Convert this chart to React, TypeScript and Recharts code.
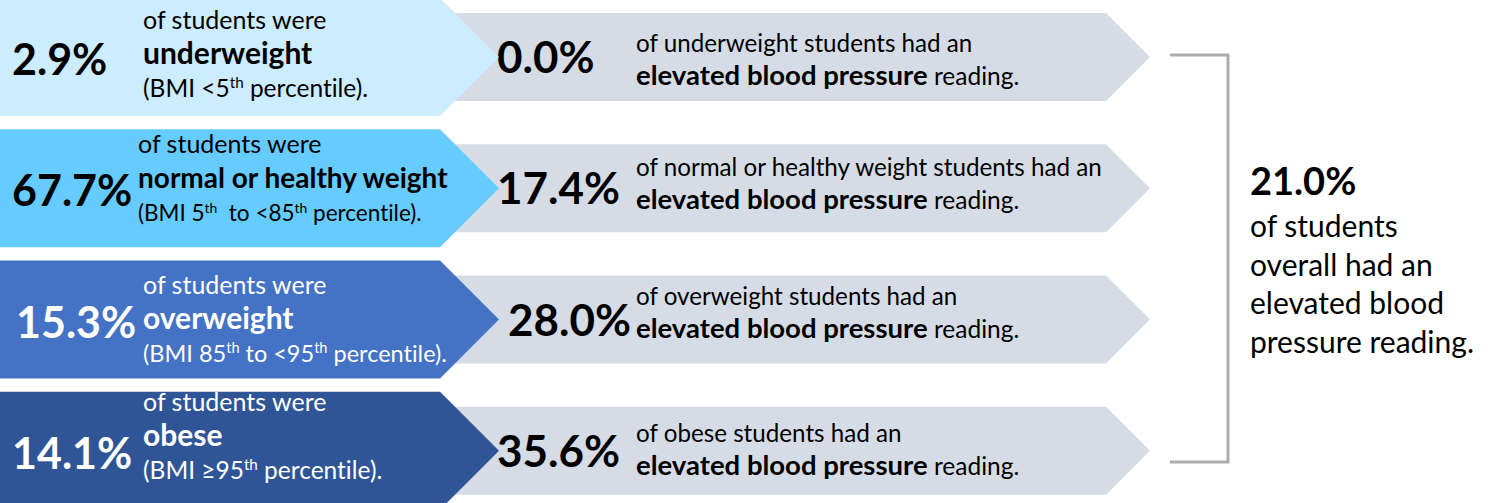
import { Bar, BarChart, Customized, XAxis, YAxis } from 'recharts'

const groups = ['Underweight', 'Normal or healthy weight', 'Overweight', 'Obese']
const weightShare = [2.9, 67.7, 15.3, 14.1]
const elevatedBpShare = [0.0, 17.4, 28.0, 35.6]
const weightWords = ['underweight', 'normal or healthy weight', 'overweight', 'obese']
const bpWords = ['underweight', 'normal or healthy weight', 'overweight', 'obese']
// BMI ranges as [text, superscript, text, superscript, text]
const bmiRanges = [
  ['(BMI <5', 'th', ' percentile).'],
  ['(BMI 5', 'th', '  to <85', 'th', ' percentile).'],
  ['(BMI 85', 'th', ' to <95', 'th', ' percentile).'],
  ['(BMI \u226595', 'th', ' percentile).'],
]
const overallElevated = 21.0

const arrowColors = ['#CCECFF', '#66CCFF', '#4472C4', '#2F5597']
const arrowText = ['#000000', '#000000', '#FFFFFF', '#FFFFFF']
const GRAY = '#D6DCE5'
const FONT = "Lato, 'Open Sans', sans-serif"
const noLig = { fontVariantLigatures: 'none' as const, whiteSpace: 'pre' as const }

// small per-row nudges so the text sits like the original
const weightNudge = [5, -2, 7, -7]
const bpNudge = [5, -2, -5, 1]
const bmiSize = [24.5, 22.5, 23.5, 24.5]

const rows = groups.map((group, i) => ({
  group,
  weightShare: weightShare[i],
  bpShare: elevatedBpShare[i],
}))

const pct = (v: number) => v.toFixed(1) + '%'

function BmiLine({ parts, x, y, size, fill }: { parts: string[]; x: number; y: number; size: number; fill: string }) {
  return (
    <text x={x} y={y} fontSize={size} fill={fill} fontFamily={FONT} style={noLig}>
      {parts.map((p, i) =>
        i % 2 === 1 ? (
          <tspan key={i} dy={-size * 0.35} fontSize={size * 0.62}>{p}</tspan>
        ) : (
          <tspan key={i} dy={i === 0 ? 0 : size * 0.35}>{p}</tspan>
        )
      )}
    </text>
  )
}

function WeightArrow(props: any) {
  const { x, y, height, index } = props
  const cy = y + height / 2
  const half = 59
  const corner = 440
  const fill = arrowText[index]
  const n = weightNudge[index]
  const tx = index === 1 ? 138 : 143
  return (
    <g>
      <path
        d={`M${x},${cy - half} H${corner} L${corner + half},${cy} L${corner},${cy + half} H${x} Z`}
        fill={arrowColors[index]}
      />
      <text x={index === 2 ? 16 : 12} y={cy + 18} fontSize={43} fontWeight={700} fill={fill} fontFamily={FONT}>
        {pct(weightShare[index])}
      </text>
      <text x={tx} y={cy - 33 + n} fontSize={25} fill={fill} fontFamily={FONT} style={noLig}>
        of students were
      </text>
      <text x={tx} y={cy + 2 + n} fontSize={index === 1 ? 28 : 30} fontWeight={700} fill={fill} fontFamily={FONT} style={noLig}>
        {weightWords[index]}
      </text>
      <BmiLine parts={bmiRanges[index]} x={tx} y={cy + 35 + n} size={bmiSize[index]} fill={fill} />
    </g>
  )
}

function BpArrow(props: any) {
  const { y, height, index } = props
  const cy = y + height / 2
  const half = 44
  const left = 436
  const corner = 1106
  const n = bpNudge[index]
  return (
    <g>
      <path
        d={`M${left},${cy - half} H${corner} L${corner + half},${cy} L${corner},${cy + half} H${left} Z`}
        fill={GRAY}
      />
      <text x={index === 2 ? 508 : 497} y={cy + 16} fontSize={44} fontWeight={700} fill="#000" fontFamily={FONT}>
        {pct(elevatedBpShare[index])}
      </text>
      <text x={636} y={cy - 10 + n} fontSize={24.2} fill="#000" fontFamily={FONT} style={noLig}>
        of {bpWords[index]} students had an
      </text>
      <text x={636} y={cy + 23 + n} fontSize={24.5} fill="#000" fontFamily={FONT} style={noLig}>
        <tspan fontWeight={700} fontSize={27.5}>elevated blood pressure</tspan>
        <tspan> reading.</tspan>
      </text>
    </g>
  )
}

function Summary() {
  const lines = ['of students', 'overall had an', 'elevated blood', 'pressure reading.']
  return (
    <g>
      <path d="M1170,55 H1228 V462 H1170" fill="none" stroke="#ADADAD" strokeWidth={3} />
      <text x={1250} y={195} fontSize={38} fontWeight={700} fill="#000" fontFamily={FONT}>
        {pct(overallElevated)}
      </text>
      {lines.map((line, i) => (
        <text key={line} x={1250} y={237 + i * 38.5} fontSize={30} fill="#000" fontFamily={FONT} style={noLig}>
          {line}
        </text>
      ))}
    </g>
  )
}

export default function App() {
  return (
    <div style={{ position: 'fixed', left: 0, top: 0, width: 1491, height: 503, background: '#fff' }}>
      <BarChart
        layout="vertical"
        width={1491}
        height={503}
        data={rows}
        margin={{ top: -9, right: 0, bottom: -13, left: 0 }}
        barSize={118}
        barGap={-118}
      >
        <XAxis type="number" hide domain={[0, 100]} />
        <YAxis type="category" dataKey="group" hide width={0} />
        <Bar dataKey="bpShare" shape={BpArrow} minPointSize={1} isAnimationActive={false} />
        <Bar dataKey="weightShare" shape={WeightArrow} minPointSize={1} isAnimationActive={false} />
        <Customized component={<Summary />} />
      </BarChart>
    </div>
  )
}
